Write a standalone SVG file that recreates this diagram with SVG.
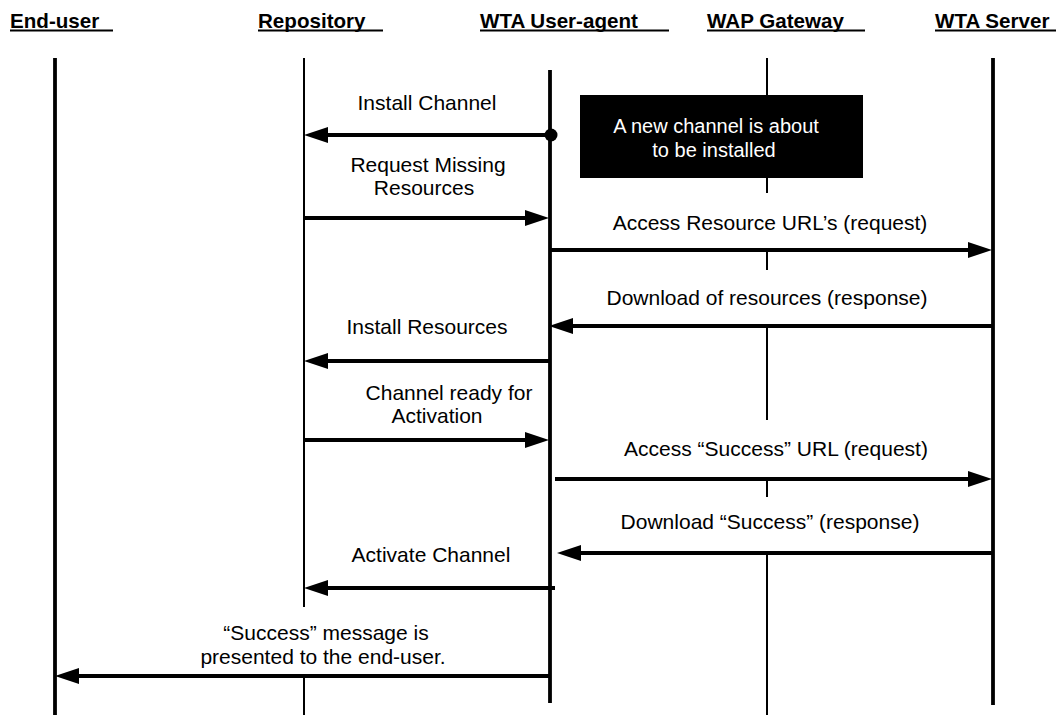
<svg xmlns="http://www.w3.org/2000/svg" width="1060" height="715" viewBox="0 0 1060 715">
<style>
.hd{font-family:"Liberation Sans",Arial,sans-serif;font-weight:bold;font-size:20.6px;fill:#000}
.lb{font-family:"Liberation Sans",Arial,sans-serif;font-size:21px;fill:#000;text-anchor:middle}
.nt{font-family:"Liberation Sans",Arial,sans-serif;font-size:20px;fill:#fff;text-anchor:middle}
.ul{stroke:#000;stroke-width:2}
.thick{stroke:#000;stroke-width:3.8}
.thin{stroke:#000;stroke-width:2}
.msg{stroke:#000;stroke-width:4;fill:none;marker-end:url(#ah)}
</style>
<defs>
<marker id="ah" markerUnits="userSpaceOnUse" markerWidth="24" markerHeight="16" refX="14" refY="8" orient="auto" viewBox="0 0 24 16">
<path d="M0,0 L24,8 L0,16 Z" fill="#000"/>
</marker>
</defs>
<rect width="1060" height="715" fill="#fff"/>

<g id="enduser">
<text class="hd" x="10" y="28">End-user</text>
<line class="ul" x1="10" y1="30.5" x2="113" y2="30.5"/>
<line class="thick" x1="55" y1="58" x2="55" y2="715"/>
</g>

<g id="repository">
<text class="hd" x="258" y="28">Repository</text>
<line class="ul" x1="258" y1="30.5" x2="383" y2="30.5"/>
<line class="thin" x1="304" y1="58" x2="304" y2="607"/>
<line class="thin" x1="304" y1="676" x2="304" y2="715"/>
</g>

<g id="useragent">
<text class="hd" x="480" y="28">WTA User-agent</text>
<line class="ul" x1="480" y1="30.5" x2="669" y2="30.5"/>
<line class="thick" x1="550" y1="70" x2="550" y2="703"/>
</g>

<g id="gateway">
<text class="hd" x="707" y="28">WAP Gateway</text>
<line class="ul" x1="707" y1="30.5" x2="865" y2="30.5"/>
<line class="thin" x1="767" y1="58" x2="767" y2="193"/>
<line class="thin" x1="767" y1="252" x2="767" y2="270"/>
<line class="thin" x1="767" y1="328" x2="767" y2="420"/>
<line class="thin" x1="767" y1="481" x2="767" y2="497"/>
<line class="thin" x1="767" y1="555" x2="767" y2="715"/>
</g>

<g id="server">
<text class="hd" x="935" y="28">WTA Server</text>
<line class="ul" x1="935" y1="30.5" x2="1056" y2="30.5"/>
<line class="thick" x1="993" y1="58" x2="993" y2="705"/>
</g>

<g id="note">
<rect x="580" y="95" width="283" height="83" fill="#000"/>
<text class="nt" x="716" y="133">A new channel is about</text>
<text class="nt" x="714" y="157">to be installed</text>
</g>

<g id="connectors">
<line class="msg" x1="550" y1="135" x2="314" y2="135"/>
<circle cx="551" cy="135" r="6.5" fill="#000"/>
<line class="msg" x1="304" y1="218" x2="539" y2="218"/>
<line class="msg" x1="550" y1="250" x2="982" y2="250"/>
<line class="msg" x1="993" y1="326" x2="559" y2="326"/>
<line class="msg" x1="550" y1="361" x2="314" y2="361"/>
<line class="msg" x1="304" y1="440" x2="539" y2="440"/>
<line class="msg" x1="555" y1="479" x2="982" y2="479"/>
<line class="msg" x1="993" y1="553" x2="567" y2="553"/>
<line class="msg" x1="555" y1="588" x2="314" y2="588"/>
<line class="msg" x1="550" y1="676" x2="65" y2="676"/>
</g>

<g id="labels">
<text class="lb" x="427" y="110">Install Channel</text>
<text class="lb" x="428" y="172">Request Missing</text>
<text class="lb" x="424" y="195">Resources</text>
<text class="lb" x="770" y="230">Access Resource URL’s (request)</text>
<text class="lb" x="767" y="305">Download of resources (response)</text>
<text class="lb" x="427" y="334">Install Resources</text>
<text class="lb" x="449" y="400">Channel ready for</text>
<text class="lb" x="437" y="423">Activation</text>
<text class="lb" x="776" y="456">Access “Success” URL (request)</text>
<text class="lb" x="770" y="529">Download “Success” (response)</text>
<text class="lb" x="431" y="562">Activate Channel</text>
<text class="lb" x="326" y="640">“Success” message is</text>
<text class="lb" x="323" y="664">presented to the end-user.</text>
</g>
</svg>
